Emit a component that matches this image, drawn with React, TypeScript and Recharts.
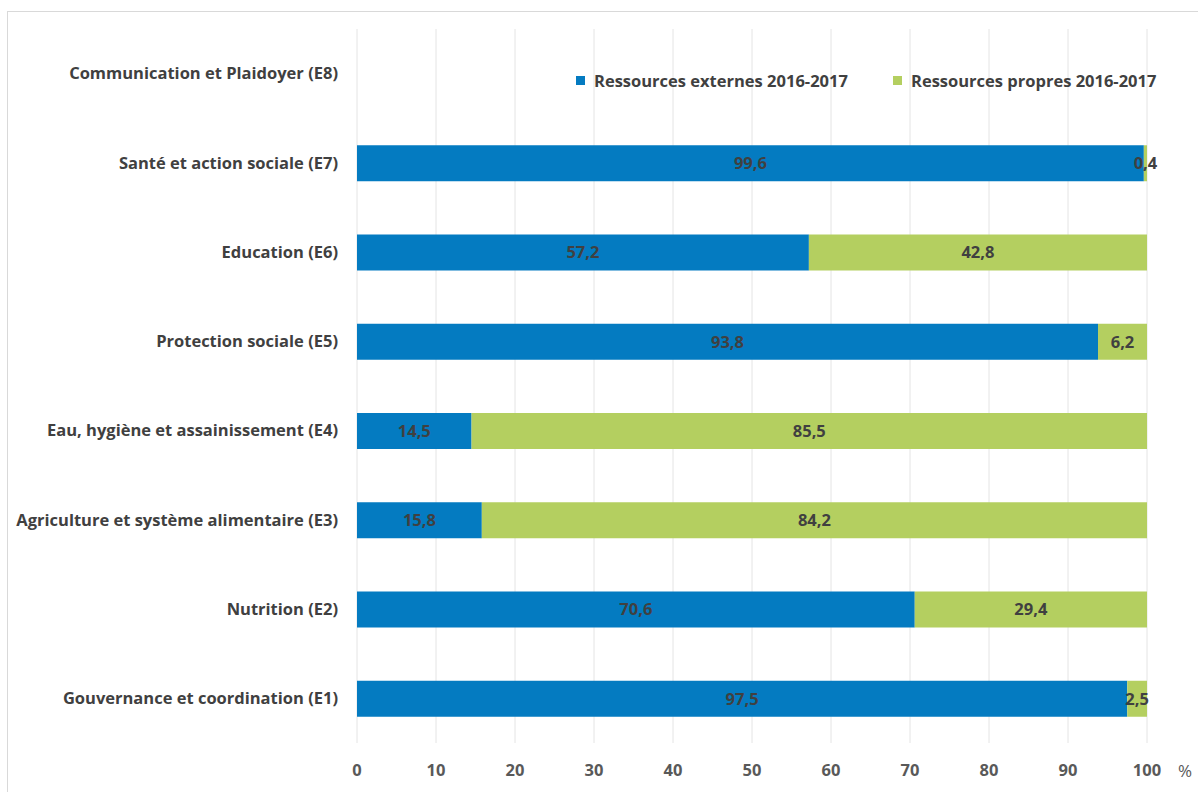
import React from "react";
import {
  BarChart,
  Bar,
  XAxis,
  YAxis,
  CartesianGrid,
  LabelList,
} from "recharts";

const categories = [
  "Communication et Plaidoyer (E8)",
  "Santé et action sociale (E7)",
  "Education (E6)",
  "Protection sociale (E5)",
  "Eau, hygiène et assainissement (E4)",
  "Agriculture et système alimentaire (E3)",
  "Nutrition (E2)",
  "Gouvernance et coordination (E1)",
];

const externes: (number | null)[] = [null, 99.6, 57.2, 93.8, 14.5, 15.8, 70.6, 97.5];
const propres: (number | null)[] = [null, 0.4, 42.8, 6.2, 85.5, 84.2, 29.4, 2.5];

const xTicks = [0, 10, 20, 30, 40, 50, 60, 70, 80, 90, 100];

const seriesNames = ["Ressources externes 2016-2017", "Ressources propres 2016-2017"];

const BLUE = "#047bc1";
const GREEN = "#b4cf60";
const FONT = "'Open Sans', sans-serif";
const FS = 16.5;

const data = categories.map((name, i) => ({
  name,
  externes: externes[i],
  propres: propres[i],
}));

function fmt(v: unknown): string {
  if (v === null || v === undefined || v === "") return "";
  return String(v).replace(".", ",");
}

export default function App(): React.ReactElement {
  return (
    <div style={{ position: "absolute", left: 0, top: 0, width: 1198, height: 792, overflow: "hidden", background: "#fff", fontFamily: FONT }}>
      <div
        style={{
          position: "absolute",
          left: 7,
          top: 11,
          width: 1200,
          height: 800,
          border: "1px solid #d9d9d9",
        }}
      />
      <div style={{ position: "absolute", left: 0, top: 0 }}>
        <BarChart
          width={1198}
          height={792}
          data={data}
          layout="vertical"
          barSize={36}
          margin={{ top: 29, right: 51, left: 0, bottom: 0 }}
        >
          <CartesianGrid horizontal={false} stroke="#e4e4e4" />
          <XAxis
            type="number"
            domain={[0, 100]}
            ticks={xTicks}
            interval={0}
            axisLine={false}
            tickLine={false}
            tickSize={0}
            tickMargin={21}
            height={49}
            tick={{ fontSize: 16.5, fontWeight: 700, fill: "#595959", fontFamily: FONT }}
            label={{ value: "%", position: "right", offset: 31, dy: 3, fontSize: 17, fill: "#595959", fontFamily: FONT }}
          />
          <YAxis
            type="category"
            dataKey="name"
            width={357}
            axisLine={false}
            tickLine={false}
            tickSize={0}
            tickMargin={19}
            interval={0}
            tick={{ fontSize: FS, fontWeight: 700, fill: "#404040", fontFamily: FONT }}
          />
          <Bar dataKey="externes" stackId="a" fill={BLUE} isAnimationActive={false}>
            <LabelList
              dataKey="externes"
              position="center"
              formatter={fmt}
              style={{ fontSize: FS, fontWeight: 700, fill: "#404040", fontFamily: FONT }}
            />
          </Bar>
          <Bar dataKey="propres" stackId="a" fill={GREEN} isAnimationActive={false}>
            <LabelList
              dataKey="propres"
              position="center"
              formatter={fmt}
              style={{ fontSize: FS, fontWeight: 700, fill: "#404040", fontFamily: FONT }}
            />
          </Bar>
        </BarChart>
      </div>
      <div
        style={{
          position: "absolute",
          top: 69,
          left: 576,
          display: "flex",
          alignItems: "center",
          fontSize: FS,
          fontWeight: 700,
          color: "#404040",
          whiteSpace: "nowrap",
        }}
      >
        <span style={{ width: 9, height: 9, background: BLUE, display: "inline-block", marginRight: 9 }} />
        <span style={{ display: "inline-block", width: 299 }}>{seriesNames[0]}</span>
        <span style={{ width: 9, height: 9, background: GREEN, display: "inline-block", marginRight: 9 }} />
        <span>{seriesNames[1]}</span>
      </div>
    </div>
  );
}
